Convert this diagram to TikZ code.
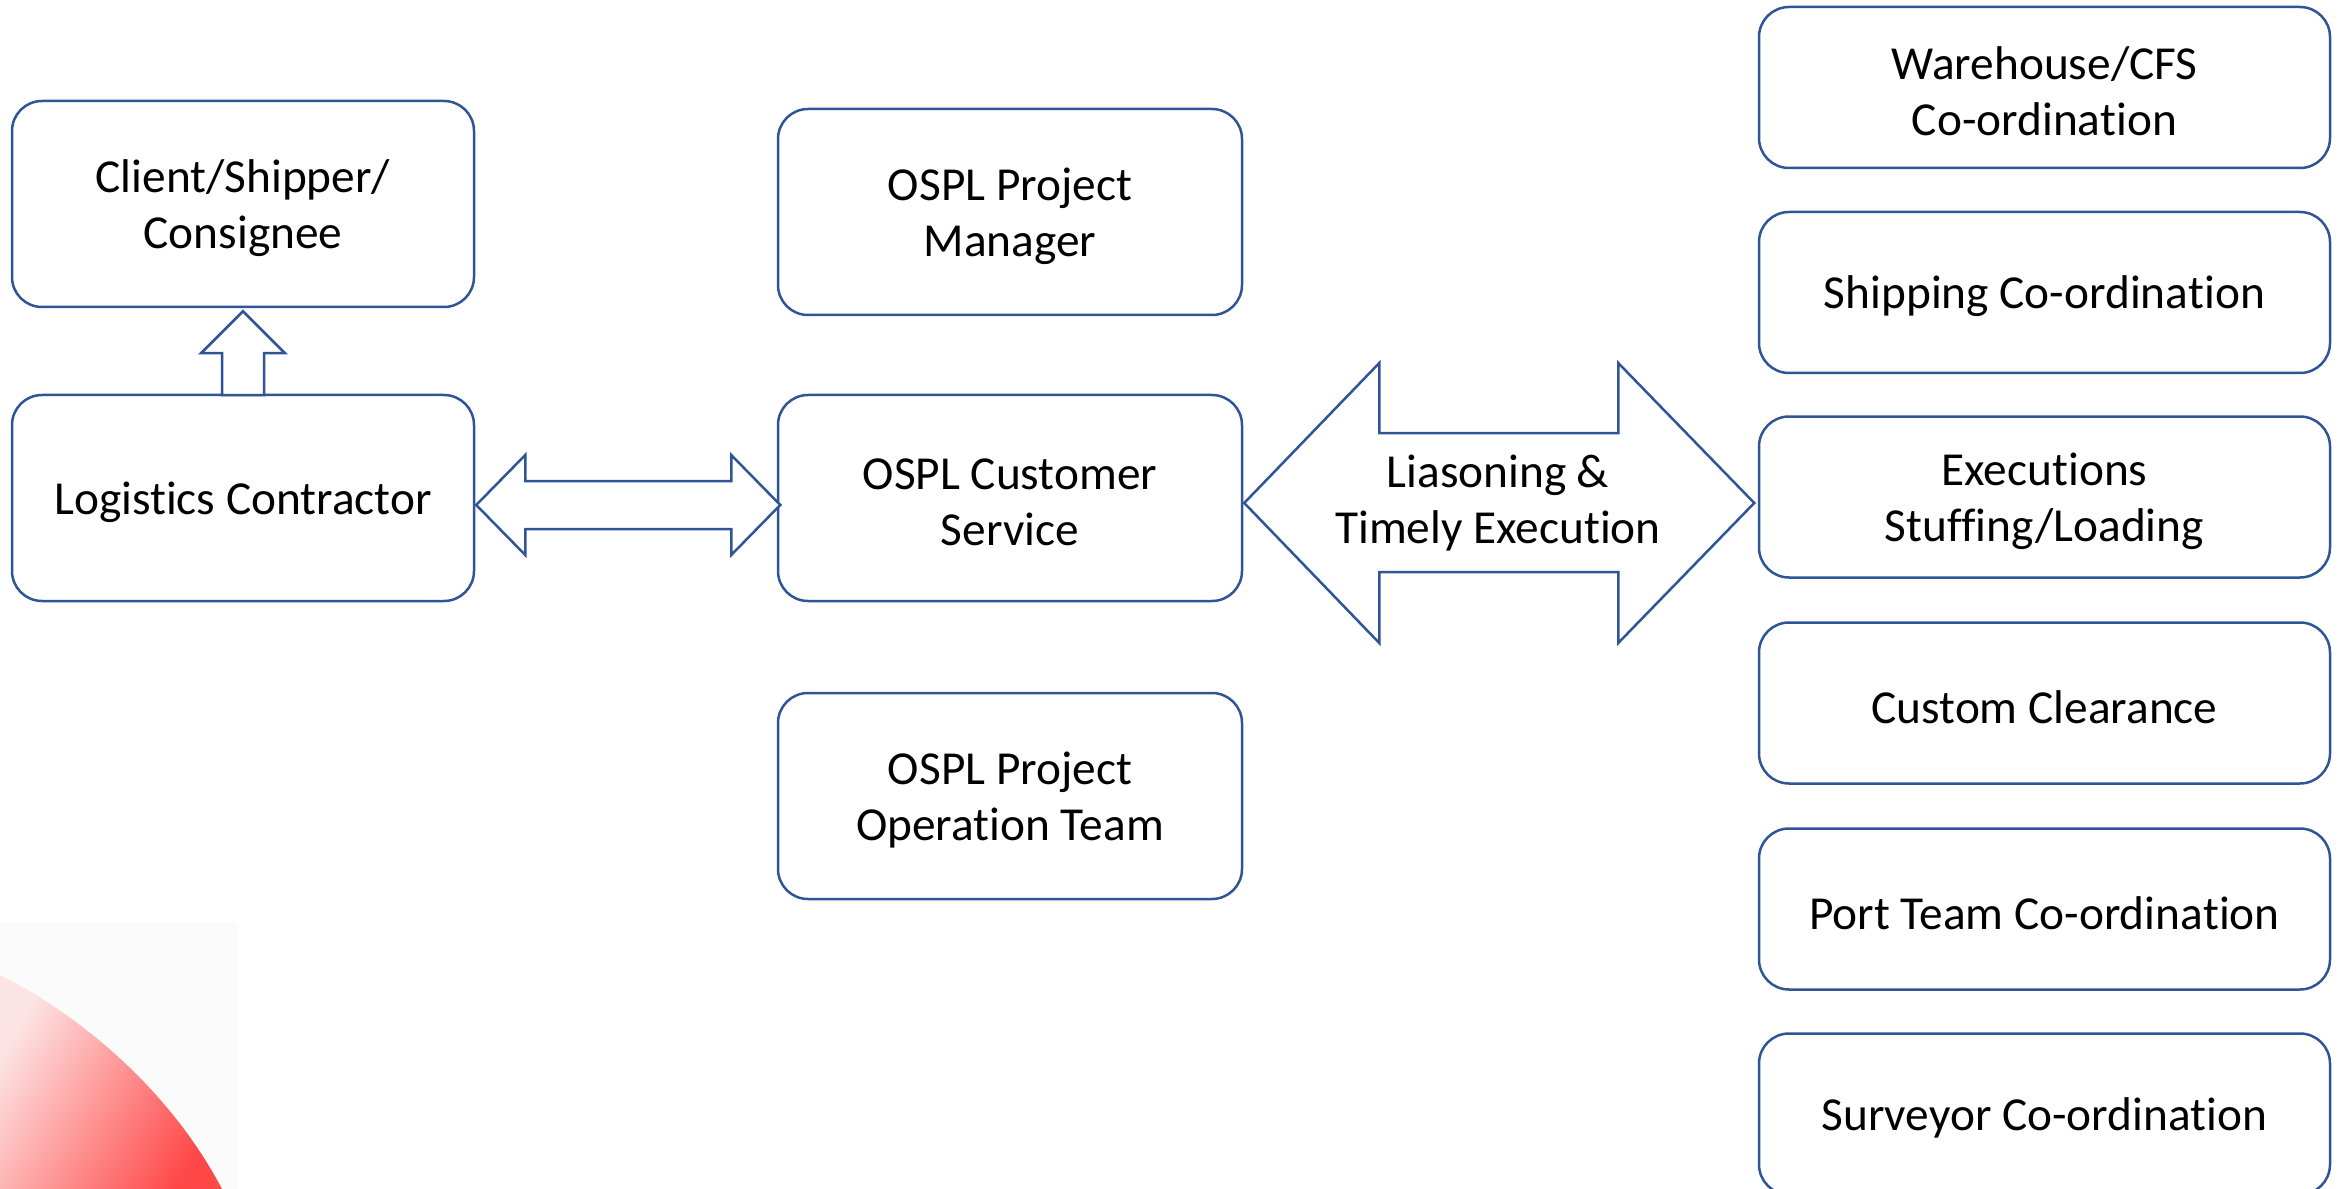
\documentclass[tikz,border=0pt]{standalone}
\usepackage{fontspec}
\setmainfont{Carlito}[Ligatures={NoCommon,NoRequired,NoContextual,NoRare}, Contextuals=NoAlternate]
\usetikzlibrary{calc}
\newcommand{\coordword}{Co-ordina\kern0pt tion}
\definecolor{ospl}{RGB}{47,85,151}
\definecolor{pinklight}{RGB}{253,228,228}
\definecolor{reddark}{RGB}{255,72,72}
\definecolor{faintgray}{RGB}{251,251,251}
\tikzset{
  boxtext/.style={align=center, inner sep=0pt, font=\fontsize{14.2pt}{16.8pt}\selectfont, yshift=-1.2pt},
  boxnode/.style={draw=ospl, line width=0.75pt, rounded corners=9pt,
    fill=white, inner sep=0pt,
    minimum width=462*0.3pt, minimum height=206*0.3pt,
    label={[boxtext]center:#1}},
  widebox/.style={boxnode={#1}, minimum width=464*0.3pt},
  rightbox/.style={boxnode={#1}, minimum width=571*0.3pt, minimum height=161*0.3pt},
  blockarrow/.style={draw=ospl, line width=0.75pt, fill=white, line join=miter},
  arrowlabel/.style={align=center, inner sep=0pt, font=\fontsize{14.2pt}{16.8pt}\selectfont}
}
\begin{document}
\begin{tikzpicture}[x=0.3pt, y=-0.3pt]
\useasboundingbox (0,0) rectangle (2338,1189);
\begin{scope}
\clip (0,0) rectangle (2338,1189);
\fill[faintgray] (0,922) rectangle (237,1189);
\shade[left color=pinklight, right color=reddark, shading angle=60]
  (0,975) .. controls (80,1015) and (170,1090) .. (222,1189) -- (0,1189) -- cycle;
\end{scope}

% left column
\node[boxnode={Client/Shipper/\\Consignee}] (client) at (243,204) {};
\node[boxnode={Logistics Contractor}] (logistics) at (243,498) {};

% middle column
\node[widebox={OSPL Project\\Manager}] (pm) at (1010,212) {};
\node[widebox={OSPL Customer\\Service}] (cs) at (1010,498) {};
\node[widebox={OSPL Project\\Operation Team}] (op) at (1010,796) {};

% right column
\node[rightbox={Warehouse/CFS\\\coordword}] (r1) at (2044.5,87.5) {};
\node[rightbox={Shipping \coordword}] (r2) at (2044.5,292.5) {};
\node[rightbox={Executions\\Stuffing/Loading}] (r3) at (2044.5,497) {};
\node[rightbox={Custom Clearance}] (r4) at (2044.5,703) {};
\node[rightbox={Port Team \coordword}] (r5) at (2044.5,909) {};
\begin{scope}
\clip (0,0) rectangle (2338,1189);
\node[rightbox={Surveyor \coordword}] (r6) at (2044.5,1114) {};
\end{scope}

% up block arrow: logistics -> client
\draw[blockarrow] ($(client.south)+(0,3)$) -- ++(42,42) -- ++(-21,0) -- ++(0,42)
  -- ++(-42,0) -- ++(0,-42) -- ++(-21,0) -- cycle;

% double block arrow: logistics <-> customer service
\draw[blockarrow] ($(logistics.east)+(1,7)$) -- ++(49,-50) -- ++(0,26) -- ++(206,0)
  -- ++(0,-26) -- ++(49,50) -- ++(-49,50) -- ++(0,-26) -- ++(-206,0) -- ++(0,26) -- cycle;

% big double block arrow: customer service <-> executions
\draw[blockarrow] ($(cs.east)+(1,5)$) -- ++(135,-140) -- ++(0,70) -- ++(239,0)
  -- ++(0,-70) -- ++(136,140) -- ++(-136,140) -- ++(0,-71) -- ++(-239,0)
  -- ++(0,71) -- cycle;
\node[arrowlabel] (lte) at (1498,503) {Liasoning \&\\Timely Execution};
\end{tikzpicture}
\end{document}
